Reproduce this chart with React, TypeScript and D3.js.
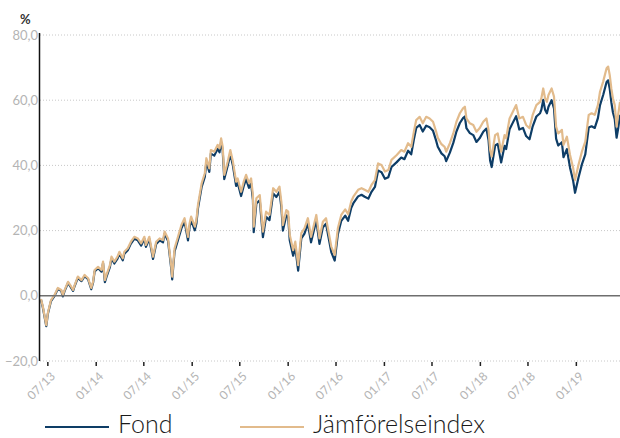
import React from 'react';
import * as d3 from 'd3';

const dates = [
  '2013-06-05','2013-06-12','2013-06-25','2013-07-01','2013-07-07','2013-07-13','2013-07-26','2013-08-08','2013-08-21','2013-08-27',
  '2013-09-03','2013-09-16','2013-09-28','2013-10-05','2013-10-11','2013-10-23','2013-11-06','2013-11-18','2013-12-01','2013-12-13',
  '2013-12-20','2013-12-26','2014-01-08','2014-01-21','2014-01-27','2014-02-03','2014-02-09','2014-02-22','2014-02-28','2014-03-11',
  '2014-03-23','2014-03-30','2014-04-12','2014-04-18','2014-05-01','2014-05-13','2014-05-26','2014-06-08','2014-06-21','2014-07-03',
  '2014-07-09','2014-07-22','2014-08-05','2014-08-17','2014-08-30','2014-09-12','2014-09-18','2014-10-01','2014-10-13','2014-10-17',
  '2014-10-26','2014-11-08','2014-11-21','2014-12-03','2014-12-16','2014-12-22','2014-12-28','2015-01-11','2015-01-17','2015-01-23',
  '2015-02-06','2015-02-18','2015-02-24','2015-03-07','2015-03-13','2015-03-26','2015-04-08','2015-04-15','2015-04-21','2015-04-27',
  '2015-05-03','2015-05-16','2015-05-26','2015-06-05','2015-06-17','2015-06-23','2015-07-06','2015-07-16','2015-07-25','2015-08-05',
  '2015-08-13','2015-08-20','2015-08-23','2015-09-02','2015-09-15','2015-09-27','2015-10-09','2015-10-22','2015-11-05','2015-11-17',
  '2015-11-29','2015-12-06','2015-12-12','2015-12-25','2016-01-01','2016-01-07','2016-01-20','2016-01-28','2016-02-08','2016-02-20',
  '2016-03-03','2016-03-16','2016-03-28','2016-04-17','2016-04-29','2016-05-12','2016-05-24','2016-06-13','2016-06-26','2016-07-08',
  '2016-07-21','2016-08-05','2016-08-16','2016-08-28','2016-09-05','2016-09-23','2016-10-06','2016-10-18','2016-11-01','2016-11-13',
  '2016-11-26','2016-12-08','2016-12-21','2017-01-03','2017-01-16','2017-01-28','2017-02-17','2017-03-06','2017-03-18','2017-04-01',
  '2017-04-13','2017-04-23','2017-05-02','2017-05-15','2017-05-27','2017-06-09','2017-06-22','2017-07-05','2017-07-17','2017-07-23',
  '2017-08-06','2017-08-18','2017-08-24','2017-09-07','2017-09-20','2017-10-02','2017-10-15','2017-10-27','2017-11-03','2017-11-09',
  '2017-11-22','2017-12-05','2017-12-17','2017-12-29','2018-01-12','2018-01-24','2018-02-01','2018-02-07','2018-02-13','2018-02-26',
  '2018-03-08','2018-03-21','2018-04-03','2018-04-09','2018-04-22','2018-05-05','2018-05-17','2018-05-29','2018-06-12','2018-06-24',
  '2018-07-07','2018-07-19','2018-08-02','2018-08-16','2018-08-21','2018-08-28','2018-09-04','2018-09-11','2018-09-17','2018-09-29',
  '2018-10-08','2018-10-16','2018-10-24','2018-11-07','2018-11-13','2018-11-26','2018-12-08','2018-12-20','2018-12-27','2019-01-09',
  '2019-01-22','2019-02-04','2019-02-17','2019-02-28','2019-03-12','2019-03-24','2019-04-01','2019-04-13','2019-04-26','2019-05-02',
  '2019-05-08','2019-05-14','2019-05-20','2019-05-27','2019-06-03','2019-06-09','2019-06-16',
];

const jamforelseindex = [
  -1.0,-3.3,-9.0,-5.3,-3.3,-1.3,0.2,2.4,1.8,0.2,
  1.8,4.3,2.8,1.8,3.3,5.9,4.8,6.4,5.4,2.4,
  4.3,7.9,8.9,7.9,10.5,4.8,6.4,9.4,12.0,10.5,
  12.0,13.5,11.5,13.5,14.6,16.6,18.1,17.6,16.1,18.1,
  15.6,18.1,12.0,16.6,17.6,17.1,19.7,17.6,9.4,5.9,
  14.6,18.1,21.7,23.8,18.1,22.2,24.3,21.2,23.3,27.9,
  34.5,37.6,42.2,39.1,44.7,44.2,46.3,45.2,48.3,45.7,
  37.1,41.1,44.7,41.1,35.0,36.0,31.9,35.0,37.1,34.5,
  36.0,30.9,21.2,29.9,30.9,19.7,25.8,24.8,33.0,31.9,
  33.5,28.9,21.7,26.3,25.8,18.7,14.0,16.6,9.4,19.2,
  20.7,23.8,18.1,24.8,17.6,22.7,23.8,15.1,12.5,20.7,
  24.8,26.5,25.0,29.0,30.4,32.5,33.0,32.5,31.9,34.0,
  35.5,40.6,40.1,38.1,38.6,41.7,43.2,44.7,44.2,46.8,
  45.7,50.3,53.9,54.9,52.9,54.9,54.4,53.4,50.3,48.5,
  46.5,45.7,44.2,46.8,49.8,53.4,56.0,57.5,58.0,54.4,
  52.9,52.4,50.3,51.4,53.4,54.4,50.9,44.7,42.7,49.3,
  49.8,44.2,49.3,48.3,54.4,56.5,58.5,54.4,54.9,52.4,
  51.4,55.5,58.5,59.5,60.6,63.6,60.6,59.5,61.6,63.6,
  61.1,51.9,49.8,50.9,46.3,48.8,43.2,39.1,35.5,40.1,
  44.2,47.3,55.5,56.0,55.5,58.5,62.6,65.7,69.8,70.3,
  67.7,63.6,60.6,58.5,51.9,55.5,59.5,
];

const fond = [
  -1.2,-3.6,-9.3,-5.6,-3.6,-1.6,-0.1,2.1,1.5,-0.2,
  1.5,4.0,2.4,1.5,3.0,5.5,4.5,6.0,5.1,2.0,
  4.0,7.5,8.5,7.4,10.0,4.2,5.8,8.8,11.4,9.9,
  11.4,12.9,10.9,12.9,14.0,16.0,17.5,17.0,15.4,17.5,
  15.0,17.4,11.3,15.9,17.0,16.4,19.0,16.9,8.6,5.0,
  13.6,17.1,20.7,22.8,17.0,21.1,23.2,20.1,22.2,26.8,
  33.4,36.5,41.1,38.0,43.6,43.0,45.1,44.0,47.1,44.5,
  35.8,39.9,43.5,39.9,33.7,34.7,30.6,33.7,35.8,33.1,
  34.5,29.4,19.5,28.3,29.3,18.0,24.2,23.2,31.4,30.3,
  31.9,27.3,20.0,24.7,24.2,17.0,12.3,15.0,7.7,17.6,
  19.1,22.2,16.4,23.2,15.9,21.0,22.1,13.4,10.8,18.9,
  23.0,24.6,23.0,27.0,28.4,30.5,31.0,30.4,29.8,31.9,
  33.4,38.4,37.9,35.9,36.4,39.5,41.0,42.4,41.9,44.5,
  43.4,47.9,51.5,52.4,50.4,52.2,51.7,50.6,47.5,45.7,
  43.7,42.8,41.3,43.9,46.9,50.4,53.0,54.5,55.0,51.4,
  49.9,49.3,47.2,48.3,50.3,51.3,47.8,41.5,39.5,46.1,
  46.6,40.9,46.0,45.0,51.1,53.2,55.1,51.0,51.5,49.0,
  48.0,52.0,55.0,56.0,57.1,60.1,57.1,56.0,58.0,60.0,
  57.5,48.2,46.1,47.1,42.5,45.0,39.3,35.2,31.6,36.2,
  40.3,43.4,51.6,52.0,51.5,54.5,58.5,61.6,65.6,66.1,
  63.5,59.4,56.3,54.2,48.5,51.3,55.5,
];

const yTicks = [-20, 0, 20, 40, 60, 80];
const seriesNames = ['Fond', 'Jämförelseindex'];
const seriesColors = ['#0e3d66', '#e2bb8c'];

const W = 620;
const H = 438;

export default function App() {
  const parse = d3.timeParse('%Y-%m-%d');
  const xs = dates.map((d) => parse(d) as Date);
  const x = d3.scaleTime().domain(d3.extent(xs) as [Date, Date]).range([41, 620]);
  const y = d3.scaleLinear().domain([-20, 80]).range([361, 35]);
  const plotLeft = 40;
  const plotRight = 620;

  const locale = d3.formatLocale({ decimal: ',', thousands: ' ', grouping: [3], currency: ['', ' kr'] });
  const fmtY = locale.format('.1f');
  const fmtX = d3.timeFormat('%m/%y');
  const xTicks = x.ticks(d3.timeMonth.every(6) as any);

  const line = d3.line<number>()
    .x((_, i) => x(xs[i]))
    .y((v) => y(v));

  const fontFam = 'Lato, "Open Sans", sans-serif';

  return (
    <svg width={W} height={H} style={{ position: 'absolute', left: 0, top: 0, display: 'block' }} fontFamily={fontFam}>
      <rect width={W} height={H} fill="#ffffff" />
      {yTicks.filter((t) => t !== 0).map((t) => (
        <line key={'g' + t} x1={plotLeft} x2={plotRight} y1={y(t)} y2={y(t)} stroke="#c8c8c8" strokeWidth={1} strokeDasharray="1,2" />
      ))}
      {yTicks.map((t) => (
        <text key={'yl' + t} x={38} y={y(t) + 4.5} textAnchor="end" fontSize={13} fill="#b4b4b4">{fmtY(t)}</text>
      ))}
      <text x={20} y={24} fontSize={13} fontWeight={700} fill="#333">%</text>
      {xTicks.map((t, i) => (
        <g key={'xt' + i}>
          <line x1={x(t)} x2={x(t)} y1={362} y2={366} stroke="#222" strokeWidth={1.5} />
          <text transform={`translate(${x(t) + 8},${377}) rotate(-45)`} textAnchor="end" fontSize={12} fill="#b4b4b4">{fmtX(t)}</text>
        </g>
      ))}
      <path d={line(fond) || ''} fill="none" stroke={seriesColors[0]} strokeWidth={2.2} strokeLinejoin="round" />
      <path d={line(jamforelseindex) || ''} fill="none" stroke={seriesColors[1]} strokeWidth={2.2} strokeLinejoin="round" />
      <line x1={plotLeft} x2={plotRight} y1={y(0)} y2={y(0)} stroke="#6e6e6e" strokeWidth={1.6} />
      <line x1={39.5} x2={39.5} y1={33} y2={361} stroke="#111" strokeWidth={1.5} />
      {seriesNames.map((name, i) => {
        const lx = i === 0 ? 45 : 240;
        return (
          <g key={'lg' + i}>
            <line x1={lx} x2={lx + 64} y1={427} y2={427} stroke={seriesColors[i]} strokeWidth={1.8} />
            <text x={lx + 73} y={433} fontSize={25} fontWeight={300} fill="#1a1a1a">{name}</text>
          </g>
        );
      })}
    </svg>
  );
}
